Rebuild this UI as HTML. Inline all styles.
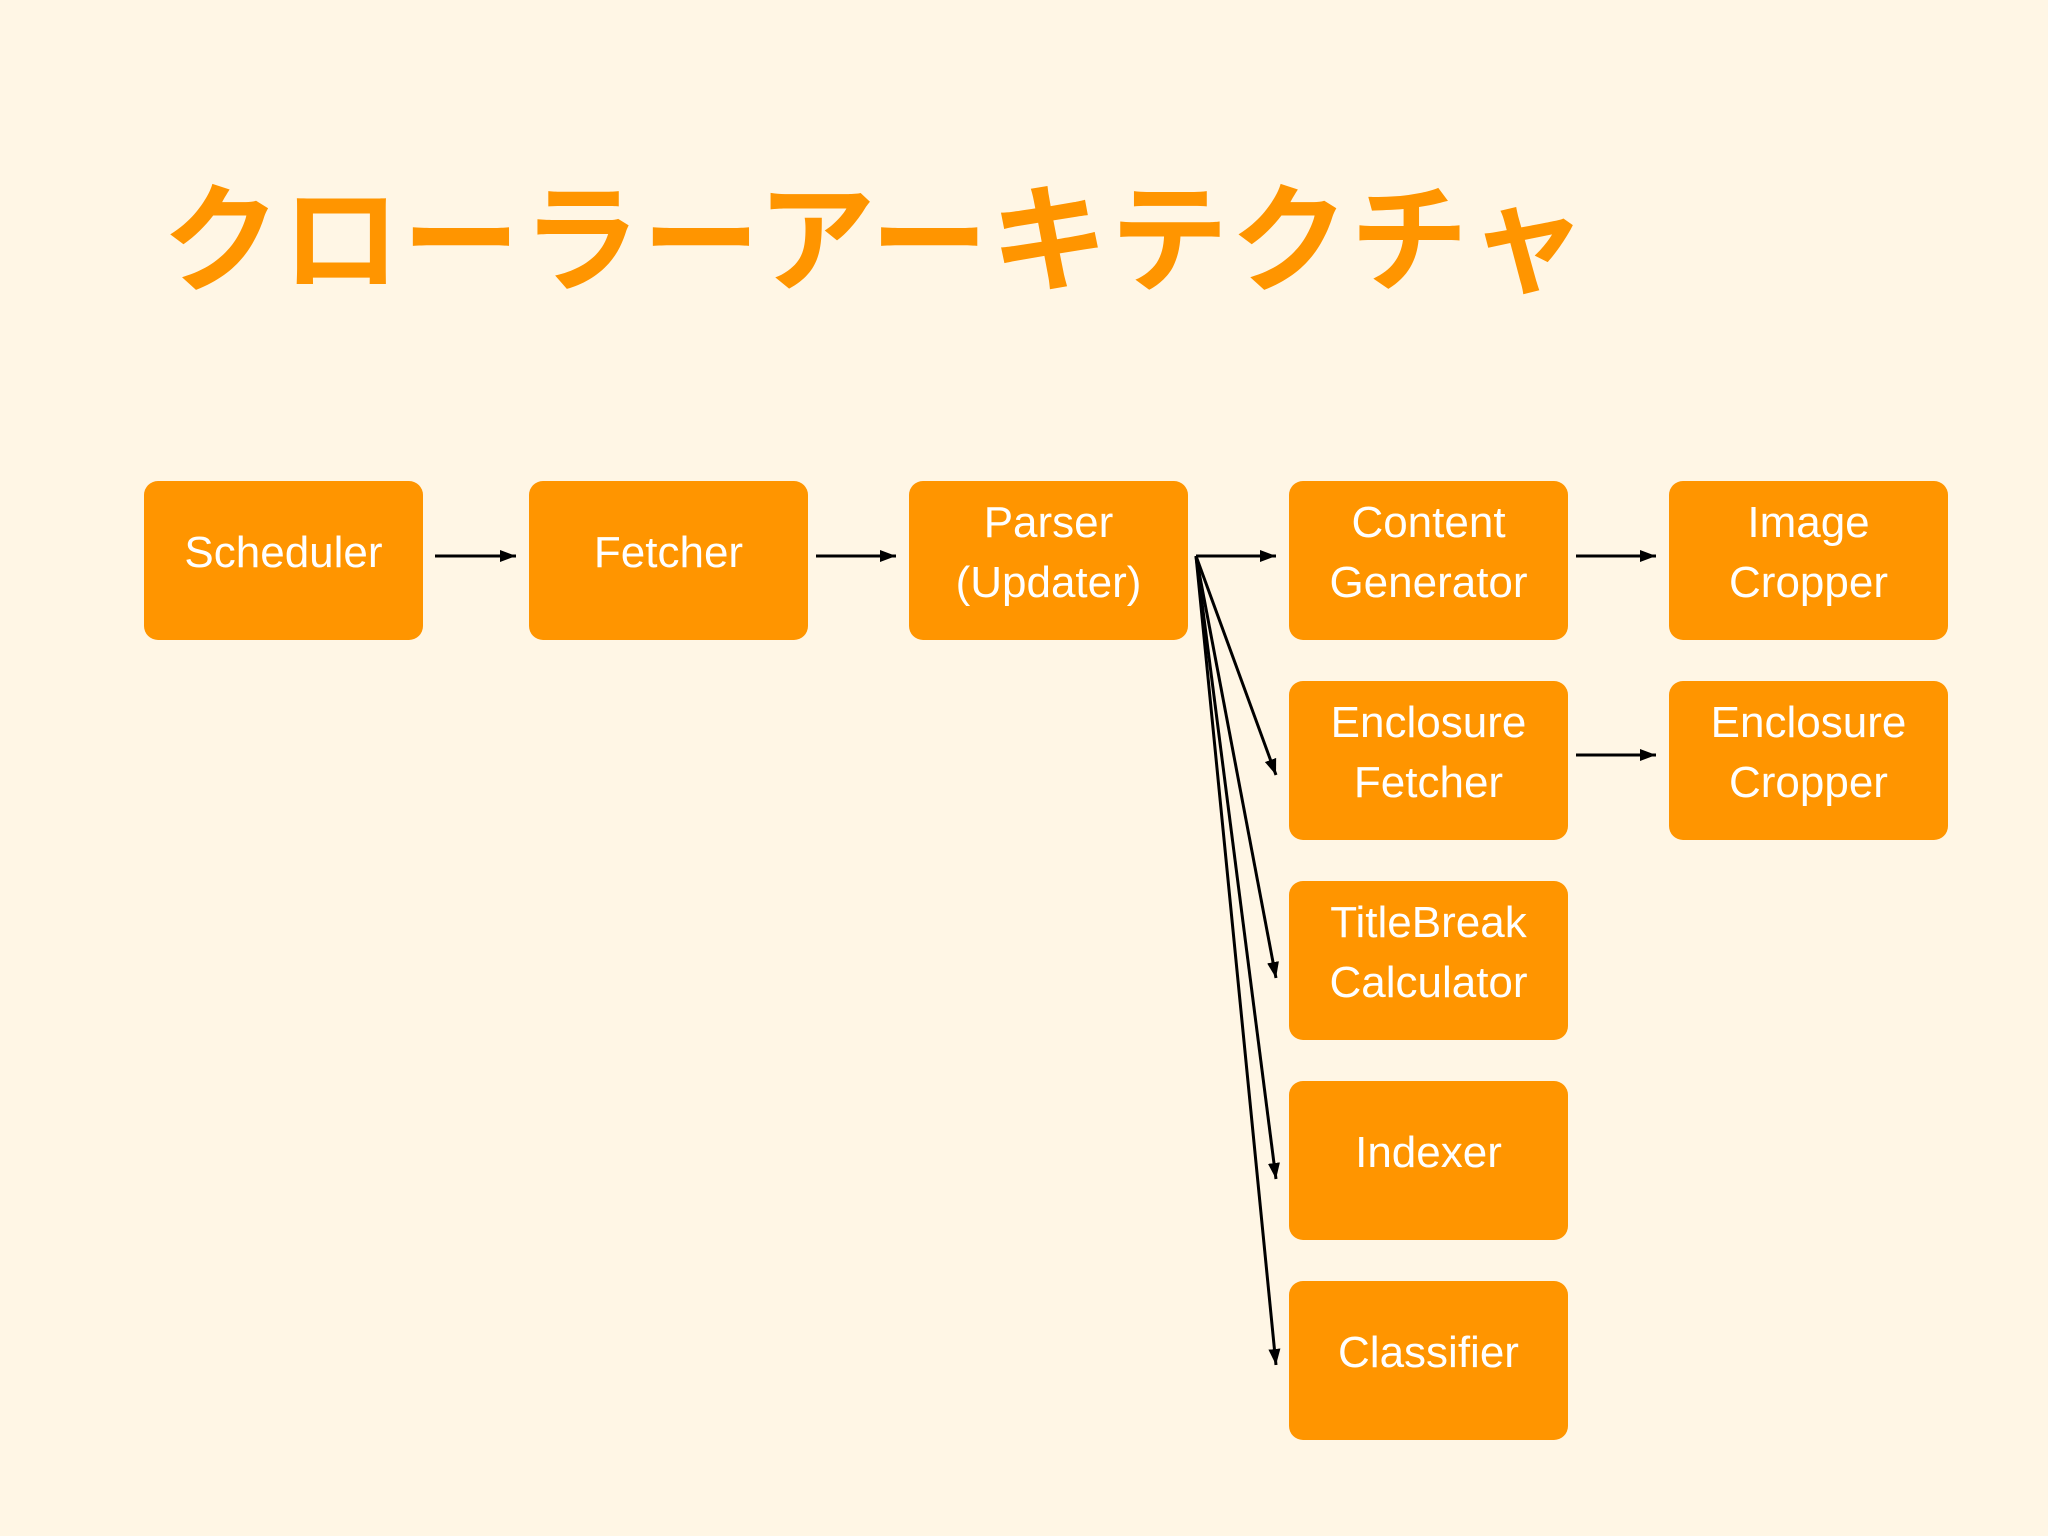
<!DOCTYPE html>
<html><head><meta charset="utf-8"><style>
html,body{margin:0;padding:0;width:2048px;height:1536px;overflow:hidden;background:#FFF6E5;}
.t{position:absolute;left:162px;top:160px;font-family:"Noto Sans CJK JP","Liberation Sans",sans-serif;font-size:118px;color:#FF9500;font-weight:700;letter-spacing:2px;white-space:nowrap;line-height:1.2;}
.b{position:absolute;width:279px;height:159px;box-sizing:border-box;padding-bottom:16px;background:#FF9500;border-radius:14px;color:#fff;font-family:"Liberation Sans","DejaVu Sans",sans-serif;font-size:44px;display:flex;align-items:center;justify-content:center;text-align:center;line-height:60px;}
svg{position:absolute;left:0;top:0;}
</style></head><body>
<div class="t">クローラーアーキテクチャ</div>
<div class="b" style="left:144px;top:481px">Scheduler</div>
<div class="b" style="left:529px;top:481px">Fetcher</div>
<div class="b" style="left:909px;top:481px">Parser<br>(Updater)</div>
<div class="b" style="left:1289px;top:481px">Content<br>Generator</div>
<div class="b" style="left:1669px;top:481px">Image<br>Cropper</div>
<div class="b" style="left:1289px;top:681px">Enclosure<br>Fetcher</div>
<div class="b" style="left:1669px;top:681px">Enclosure<br>Cropper</div>
<div class="b" style="left:1289px;top:881px">TitleBreak<br>Calculator</div>
<div class="b" style="left:1289px;top:1081px">Indexer</div>
<div class="b" style="left:1289px;top:1281px">Classifier</div>
<svg width="2048" height="1536" viewBox="0 0 2048 1536">
<defs><marker id="a" viewBox="0 0 16 12" refX="16" refY="6" markerWidth="16" markerHeight="12" orient="auto" markerUnits="userSpaceOnUse"><path d="M0,0 L16,6 L0,12 z" fill="#000"/></marker></defs>
<g stroke="#000" stroke-width="3" fill="none" marker-end="url(#a)">
<line x1="435" y1="556" x2="516" y2="556"/>
<line x1="816" y1="556" x2="896" y2="556"/>
<line x1="1196" y1="556" x2="1276" y2="556"/>
<line x1="1196" y1="556" x2="1276" y2="775"/>
<line x1="1196" y1="556" x2="1276" y2="978"/>
<line x1="1196" y1="556" x2="1276" y2="1179"/>
<line x1="1196" y1="556" x2="1276" y2="1365"/>
<line x1="1576" y1="556" x2="1656" y2="556"/>
<line x1="1576" y1="755" x2="1656" y2="755"/>
</g>
</svg>
</body></html>
